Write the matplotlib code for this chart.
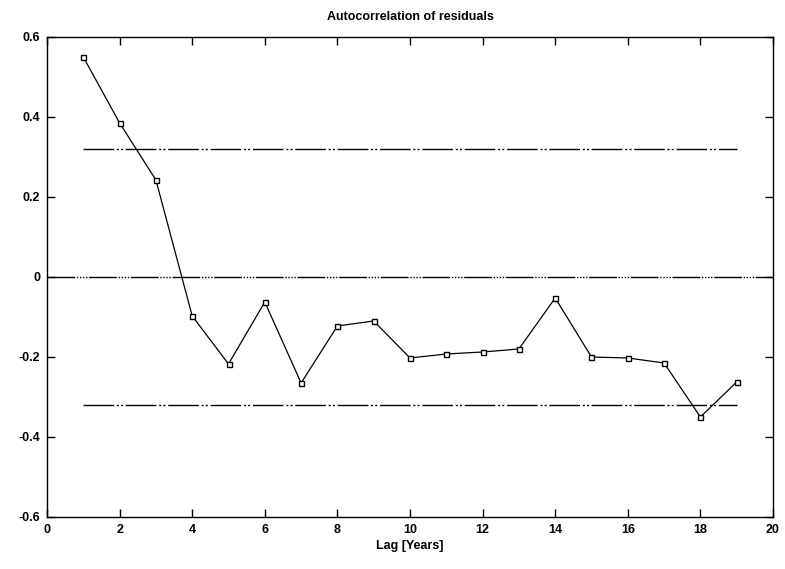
import matplotlib
matplotlib.use("Agg")
import matplotlib.pyplot as plt
import numpy as np

# Autocorrelation of model residuals by lag
lags = np.arange(1, 20)
acf = [0.55, 0.385, 0.2425, -0.0975, -0.2175, -0.0625, -0.265, -0.1225, -0.11,
       -0.2025, -0.1925, -0.1875, -0.18, -0.0525, -0.2, -0.2025, -0.215, -0.35,
       -0.2625]
conf_bound = 0.32
xticks = np.arange(0, 21, 2)
yticks = [-0.6, -0.4, -0.2, 0, 0.2, 0.4, 0.6]
ytick_labels = ["-0.6", "-0.4", "-0.2", "0", "0.2", "0.4", "0.6"]

plt.rcParams["font.family"] = ["Liberation Sans", "DejaVu Sans"]
plt.rcParams["font.weight"] = "bold"

fig = plt.figure(figsize=(7.85, 5.69), dpi=100)
ax = fig.add_axes([0.0599, 0.0914, 0.9248, 0.8436])

# zero reference line: long dash followed by a run of dots
ax.axhline(0, color="black", lw=1.0,
           dashes=(20, 1.2, 1, 1.2, 1, 1.2, 1, 1.2, 1, 1.2))

# confidence band
for b in (conf_bound, -conf_bound):
    ax.plot([lags[0], lags[-1]], [b, b], color="black", lw=1.0,
            dashes=(22, 2, 1.5, 1.5, 1.5, 2))

ax.plot(lags, acf, color="black", lw=0.9, marker="s", ms=3.6,
        mfc="white", mec="black", mew=1.0)

ax.set_xlim(0, 20)
ax.set_ylim(-0.6, 0.6)
ax.set_xticks(xticks)
ax.set_yticks(yticks)
ax.set_yticklabels(ytick_labels)
ax.tick_params(direction="in", length=6, width=1, top=True, right=True,
               labelsize=9, pad=5)
for s in ax.spines.values():
    s.set_linewidth(1.0)

ax.set_title("Autocorrelation of residuals", fontsize=9, fontweight="bold", pad=12)
ax.set_xlabel("Lag [Years]", fontsize=9, fontweight="bold", labelpad=3)

fig.savefig("out.png", dpi=100)
